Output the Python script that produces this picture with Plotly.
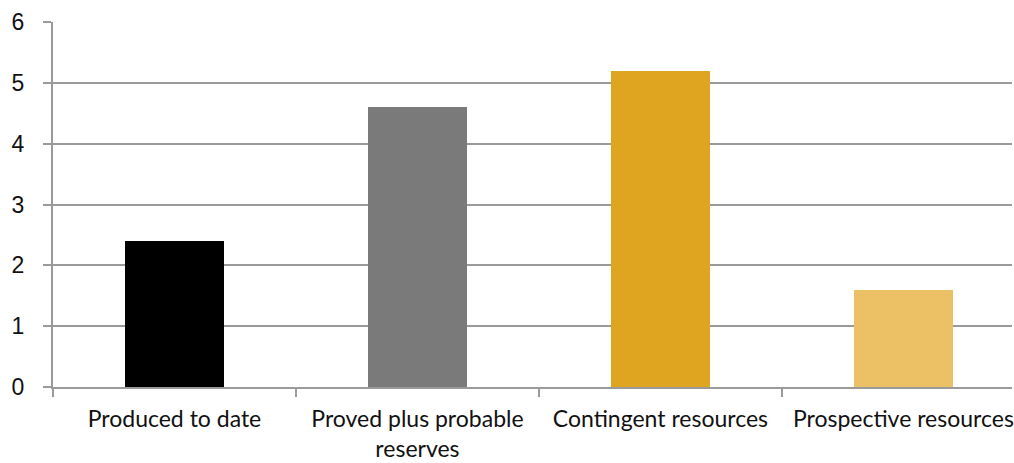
import plotly.graph_objects as go

categories = ["Produced to date", "Proved plus probable<br>reserves",
              "Contingent resources", "Prospective resources"]
values = [2.4, 4.6, 5.2, 1.6]
bar_colors = ["#000000", "#7a7a7a", "#e0a520", "#ecc165"]
y_ticks = [0, 1, 2, 3, 4, 5, 6]

grid_color = "#9a9a9a"

fig = go.Figure(
    go.Bar(
        x=categories,
        y=values,
        marker=dict(color=bar_colors, line=dict(width=0)),
        width=0.406,
    )
)

fig.update_layout(
    width=1014,
    height=463,
    margin=dict(l=53, r=0, t=22, b=76),
    paper_bgcolor="white",
    plot_bgcolor="white",
    showlegend=False,
    bargap=0,
)

fig.update_xaxes(
    type="category",
    range=[-0.5, 3.447],
    tickson="boundaries",
    ticks="outside",
    ticklen=8,
    tickwidth=1.5,
    tickcolor=grid_color,
    showline=True,
    linecolor=grid_color,
    linewidth=2,
    showgrid=False,
    tickfont=dict(family="Lato", size=23, color="#111111"),
    ticklabelstandoff=10,
)

fig.update_yaxes(
    range=[0, 6],
    tickvals=y_ticks,
    ticks="outside",
    ticklen=8,
    tickwidth=1.5,
    tickcolor=grid_color,
    showgrid=True,
    gridcolor=grid_color,
    gridwidth=1.5,
    showline=True,
    linecolor=grid_color,
    linewidth=2,
    zeroline=False,
    tickfont=dict(family="Liberation Sans", size=23, color="#111111"),
    ticklabelstandoff=14,
)

fig.write_html("out.html")
